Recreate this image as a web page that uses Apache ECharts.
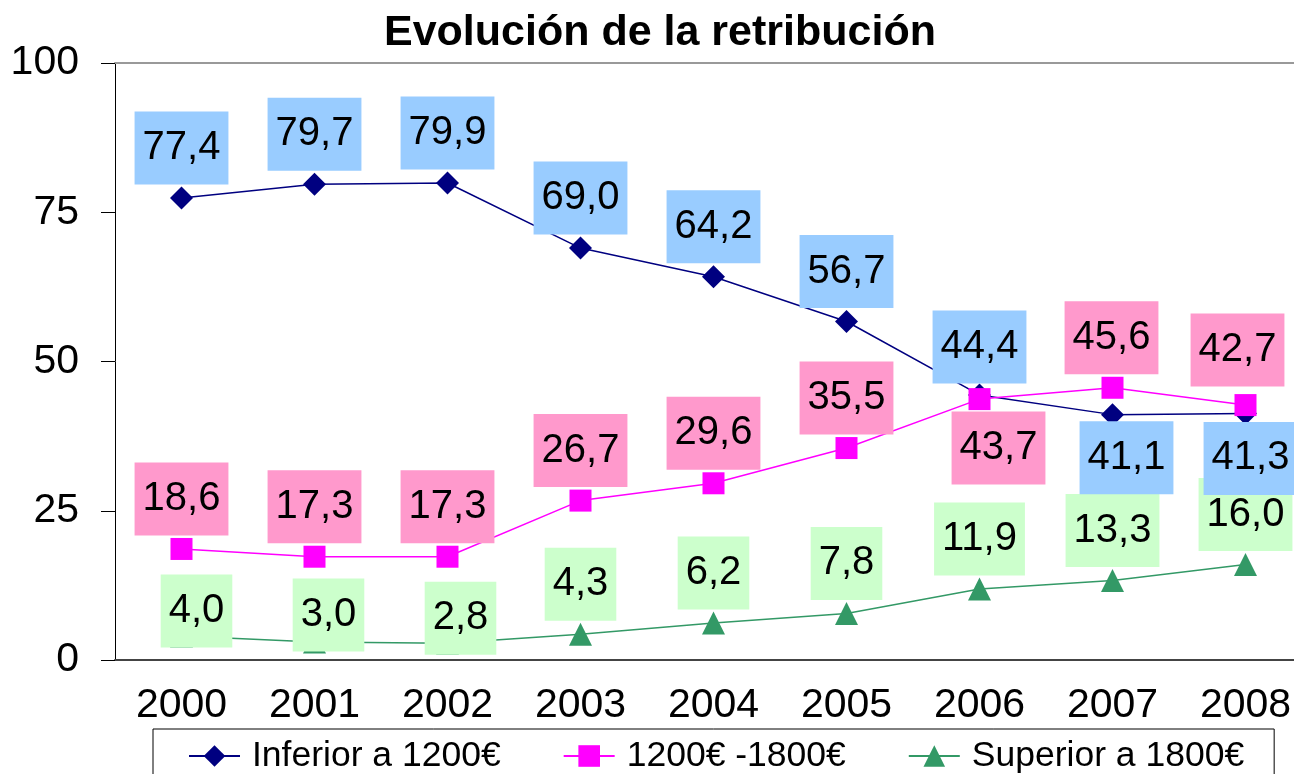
<!DOCTYPE html>
<html>
<head>
<meta charset="utf-8">
<script src="https://cdn.jsdelivr.net/npm/echarts@6/dist/echarts.min.js"></script>
<style>
  html, body { margin: 0; padding: 0; background: #fff; overflow: hidden; }
  /* the plot runs past the right edge of the picture, so the canvas is wider than the window */
  #chart { width: 1330px; height: 774px; }
</style>
</head>
<body>
<div id="chart"></div>
<script>
const years = ["2000", "2001", "2002", "2003", "2004", "2005", "2006", "2007", "2008"];
const inferior = [77.4, 79.7, 79.9, 69.0, 64.2, 56.7, 44.4, 41.1, 41.3];
const medio = [18.6, 17.3, 17.3, 26.7, 29.6, 35.5, 43.7, 45.6, 42.7];
const superior = [4.0, 3.0, 2.8, 4.3, 6.2, 7.8, 11.9, 13.3, 16.0];
const yTicks = [0, 25, 50, 75, 100];

// label offsets (where Excel moved a label off its default place)
const inferiorOffsets = { 6: [0, -48], 7: [14, 43], 8: [5, 45] };
const medioOffsets = { 6: [19, 49], 7: [-1, -50], 8: [-8, -55] };
const superiorOffsets = { 0: [15, -25], 1: [14, -27], 2: [13, -25] };

const font = "'Liberation Sans', Arial, sans-serif";

function withOffsets(values, offsets) {
  return values.map((v, i) => {
    const item = { value: v };
    if (offsets[i]) {
      item.label = { offset: offsets[i] };
    }
    return item;
  });
}

function makeLabel(bg) {
  return {
    show: true,
    position: "inside",
    offset: [0, -50],
    color: "#000",
    fontFamily: font,
    fontSize: 40,
    lineHeight: 40,
    backgroundColor: bg,
    padding: [16, 8, 17, 8],
    formatter: (p) => p.value.toFixed(1).replace(".", ","),
  };
}

const chart = echarts.init(document.getElementById("chart"));

chart.setOption({
  animation: false,
  title: {
    text: "Evolución de la retribución",
    left: 384,
    top: 12,
    padding: 0,
    textStyle: { fontFamily: font, fontSize: 43, fontWeight: "bold", color: "#000" },
  },
  legend: {
    data: ["Inferior a 1200€", "1200€ -1800€", "Superior a 1800€"],
    left: 153,
    top: 729,
    padding: [7, 30, 24, 35],
    borderColor: "#000",
    borderWidth: 1,
    itemWidth: 51,
    itemHeight: 27,
    itemGap: 62,
    textStyle: {
      fontFamily: font,
      fontSize: 35.5,
      lineHeight: 40,
      color: "#000",
      padding: [0, 0, 0, 7],
    },
  },
  grid: { left: 115, top: 63, width: 1197, height: 597 },
  xAxis: [
    {
      type: "category",
      data: years,
      axisLine: { lineStyle: { color: "#444", width: 2 } },
      axisTick: { length: 15, lineStyle: { color: "#444" } },
      axisLabel: { fontFamily: font, fontSize: 41, color: "#000", margin: 25 },
    },
    {
      type: "category",
      position: "top",
      data: years,
      axisLine: { lineStyle: { color: "#999", width: 2 } },
      axisTick: { show: false },
      axisLabel: { show: false },
    },
  ],
  yAxis: {
    type: "value",
    min: yTicks[0],
    max: yTicks[yTicks.length - 1],
    interval: 25,
    splitLine: { show: false },
    axisLine: { show: true, lineStyle: { color: "#000", width: 1 } },
    axisTick: { show: true, length: 14, lineStyle: { color: "#000" } },
    axisLabel: { fontFamily: font, fontSize: 41, color: "#000", margin: 36 },
  },
  series: [
    {
      name: "Superior a 1800€",
      type: "line",
      data: withOffsets(superior, superiorOffsets),
      symbol: "triangle",
      symbolSize: 23,
      itemStyle: { color: "#339966" },
      lineStyle: { color: "#339966", width: 1.5 },
      label: makeLabel("#CCFFCC"),
    },
    {
      name: "Inferior a 1200€",
      type: "line",
      data: withOffsets(inferior, inferiorOffsets),
      symbol: "diamond",
      symbolSize: 23,
      itemStyle: { color: "#000080" },
      lineStyle: { color: "#000080", width: 1.5 },
      label: makeLabel("#99CCFF"),
    },
    {
      name: "1200€ -1800€",
      type: "line",
      data: withOffsets(medio, medioOffsets),
      symbol: "rect",
      symbolSize: 22,
      itemStyle: { color: "#FF00FF" },
      lineStyle: { color: "#FF00FF", width: 1.5 },
      label: makeLabel("#FF99CC"),
    },
  ],
});
</script>
</body>
</html>
